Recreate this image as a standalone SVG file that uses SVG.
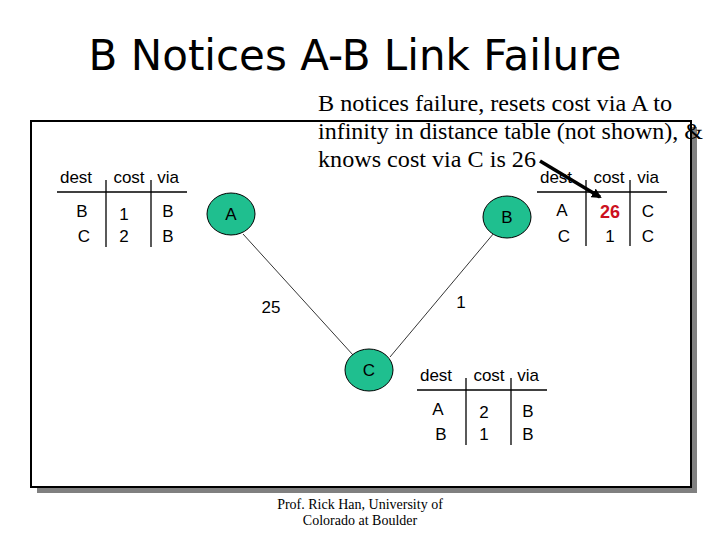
<svg xmlns="http://www.w3.org/2000/svg" width="720" height="540" viewBox="0 0 720 540">
<defs>
<style>
.sans{font-family:"Liberation Sans",Arial,sans-serif;font-size:17px;fill:#000}
.serif{font-family:"Liberation Serif","Times New Roman",serif;fill:#000}
.node{fill:#1FBF8F;stroke:#000;stroke-width:1}
.tl{stroke:#000;stroke-width:1.3;fill:none}
.link{stroke:#000;stroke-width:0.8;fill:none}
</style>
<marker id="ah" markerWidth="10" markerHeight="10" refX="8" refY="5" orient="auto" markerUnits="userSpaceOnUse">
<path d="M0,0 L10,5 L0,10 z" fill="#000"/>
</marker>
</defs>
<rect width="720" height="540" fill="#fff"/>
<text x="355" y="70" text-anchor="middle" style="font-family:'Comic Sans MS','DejaVu Sans',sans-serif;font-size:42px;fill:#000">B Notices A-B Link Failure</text>
<g id="frame">
<rect x="37" y="127" width="660" height="366" fill="#808080"/>
<rect x="31" y="121" width="660" height="366" fill="#fff" stroke="#000" stroke-width="2"/>
</g>
<g id="connectors">
<line class="link" x1="243" y1="234" x2="353" y2="355"/>
<line class="link" x1="494" y1="233" x2="390" y2="357"/>
<line x1="540" y1="161" x2="600" y2="197" stroke="#000" stroke-width="3.5" marker-end="url(#ah)"/>
</g>
<g id="labels">
<text class="sans" x="271" y="313" text-anchor="middle">25</text>
<text class="sans" x="461" y="308" text-anchor="middle">1</text>
</g>
<g id="note" class="serif" style="font-size:24px">
<text x="318" y="111" textLength="354" lengthAdjust="spacingAndGlyphs">B notices failure, resets cost via A to</text>
<text x="318" y="139" textLength="385" lengthAdjust="spacingAndGlyphs">infinity in distance table (not shown), &amp;</text>
<text x="318" y="167" textLength="218" lengthAdjust="spacingAndGlyphs">knows cost via C is 26</text>
</g>
<g id="nodeA">
<ellipse class="node" cx="231" cy="214" rx="24" ry="21"/>
<text class="sans" x="231" y="220" text-anchor="middle">A</text>
</g>
<g id="nodeB">
<ellipse class="node" cx="507" cy="217" rx="24" ry="21"/>
<text class="sans" x="507" y="223" text-anchor="middle">B</text>
</g>
<g id="nodeC">
<ellipse class="node" cx="369" cy="370" rx="24" ry="21"/>
<text class="sans" x="369" y="376" text-anchor="middle">C</text>
</g>
<g id="tableA" class="sans" text-anchor="middle">
<text x="76" y="183">dest</text><text x="129" y="183">cost</text><text x="168" y="183">via</text>
<line class="tl" x1="57" y1="192" x2="187" y2="192"/>
<line class="tl" x1="106" y1="180" x2="106" y2="247"/>
<line class="tl" x1="151" y1="180" x2="151" y2="247"/>
<text x="82" y="217">B</text><text x="124" y="220">1</text><text x="168" y="217">B</text>
<text x="84" y="242">C</text><text x="124" y="242">2</text><text x="168" y="242">B</text>
</g>
<g id="tableB" class="sans" text-anchor="middle">
<text x="556" y="183">dest</text><text x="609" y="183">cost</text><text x="648" y="183">via</text>
<line class="tl" x1="537" y1="192" x2="667" y2="192"/>
<line class="tl" x1="586" y1="180" x2="586" y2="246"/>
<line class="tl" x1="630" y1="180" x2="630" y2="246"/>
<text x="562" y="216">A</text><text x="610" y="218" style="fill:#CC1020;font-weight:bold;font-size:18px">26</text><text x="648" y="217">C</text>
<text x="564" y="242">C</text><text x="610" y="242">1</text><text x="648" y="242">C</text>
</g>
<g id="tableC" class="sans" text-anchor="middle">
<text x="436" y="381">dest</text><text x="489" y="381">cost</text><text x="528" y="381">via</text>
<line class="tl" x1="417" y1="390" x2="547" y2="390"/>
<line class="tl" x1="466" y1="378" x2="466" y2="445"/>
<line class="tl" x1="511" y1="378" x2="511" y2="445"/>
<text x="438" y="415">A</text><text x="484" y="418">2</text><text x="528" y="417">B</text>
<text x="441" y="440">B</text><text x="484" y="440">1</text><text x="528" y="440">B</text>
</g>
<g id="footer" class="serif" style="font-size:14px" text-anchor="middle">
<text x="360" y="509">Prof. Rick Han, University of</text>
<text x="360" y="525">Colorado at Boulder</text>
</g>
</svg>
